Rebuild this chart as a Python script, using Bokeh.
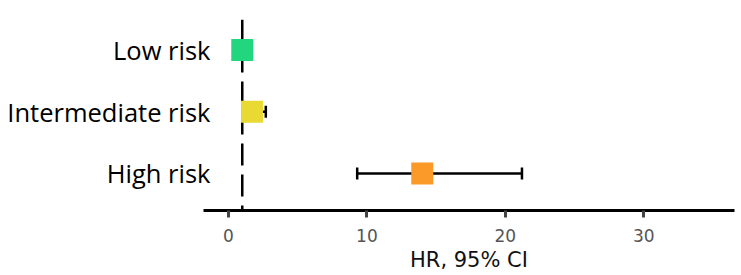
from bokeh.plotting import figure
from bokeh.models import Range1d, FixedTicker, Span, Whisker, ColumnDataSource, TeeHead
from bokeh.embed import file_html
from bokeh.resources import INLINE

# data
labels = ["High risk", "Intermediate risk", "Low risk"]
rows = [0, 1, 2]
hr = [14.0, 1.7, 1.0]
lower = [9.3, 1.1, 0.85]
upper = [21.2, 2.7, 1.15]
colors = ["#fb9a28", "#e8da33", "#22d67e"]
x_ticks = [0, 10, 20, 30]
ref_line = 1
x_start, x_end = -1.8, 36.55

src = ColumnDataSource(dict(row=rows, hr=hr, lower=lower, upper=upper, color=colors))

p = figure(width=740, height=275, output_backend="svg", toolbar_location=None,
           x_range=Range1d(x_start, x_end), y_range=Range1d(-0.6, 2.493),
           min_border_left=203, min_border_right=6, min_border_top=19, min_border_bottom=65)
p.outline_line_color = None
p.grid.grid_line_color = None

span = Span(location=ref_line, dimension="height", line_color="black", line_width=2.5,
            line_dash="22 9", level="underlay")
p.add_layout(span)

w = Whisker(source=src, base="row", lower="lower", upper="upper", dimension="width",
            line_color="black", line_width=2.5,
            lower_head=TeeHead(size=12, line_width=2.5, line_color="black"),
            upper_head=TeeHead(size=12, line_width=2.5, line_color="black"),
            level="underlay")
p.add_layout(w)

p.scatter(x="hr", y="row", source=src, marker="square", size=22,
          fill_color="color", line_color=None)

xa = p.xaxis[0]
xa.ticker = FixedTicker(ticks=x_ticks)
xa.axis_line_width = 3
xa.axis_line_color = "black"
xa.major_tick_out = 7
xa.major_tick_in = 0
xa.major_tick_line_width = 3
xa.major_tick_line_color = "#444444"
xa.minor_tick_line_color = None
xa.major_label_text_font = "DejaVu Sans"
xa.major_label_text_font_size = "17px"
xa.major_label_text_color = "#555555"
xa.major_label_standoff = 11
xa.axis_label = "HR, 95% CI"
xa.axis_label_text_font = "DejaVu Sans"
xa.axis_label_text_font_size = "21px"
xa.axis_label_text_font_style = "normal"
xa.axis_label_text_color = "#111111"
xa.axis_label_standoff = 3

ya = p.yaxis[0]
ya.ticker = FixedTicker(ticks=rows)
ya.major_label_overrides = {r: l for r, l in zip(rows, labels)}
ya.axis_line_color = None
ya.major_tick_line_color = None
ya.minor_tick_line_color = None
ya.major_tick_out = 0
ya.major_tick_in = 0
ya.major_label_standoff = -7
ya.major_label_text_font = "Open Sans"
ya.major_label_text_font_size = "25.5px"
ya.major_label_text_color = "black"

open("out.html", "w").write(file_html(p, INLINE))
